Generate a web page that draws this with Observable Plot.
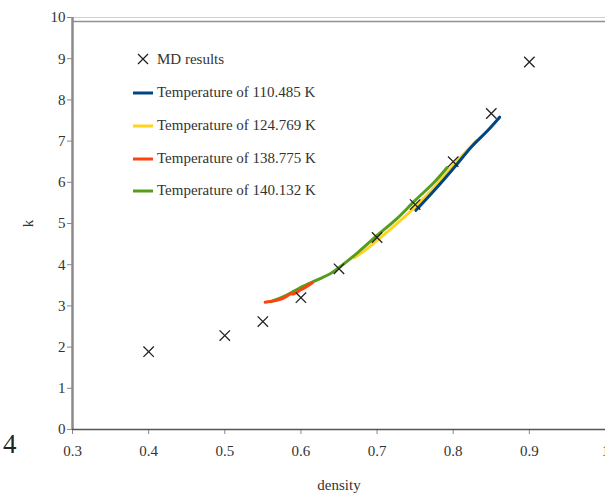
<!DOCTYPE html>
<html>
<head>
<meta charset="utf-8">
<script src="https://cdn.jsdelivr.net/npm/d3@7"></script>
<script src="https://cdn.jsdelivr.net/npm/@observablehq/plot@0.6"></script>
<style>
  html, body { margin: 0; padding: 0; background: white; }
  #wrap { position: relative; width: 605px; height: 495px; font-family: "Liberation Serif", serif; color: #333; }
  #legend { position: absolute; left: 133px; top: 49px; font-size: 15px; font-family: "Liberation Serif", serif; }
  #legend .row { position: absolute; left: 0; white-space: nowrap; height: 20px; }
  #legend svg { position: absolute; left: 0; top: 0; }
  #legend span { position: absolute; left: 24px; top: 0; line-height: 20px; font-size: 15px; }
  #four { position: absolute; left: 3px; top: 429px; font-size: 27px; font-family: "Liberation Serif", serif; color: #222; }
</style>
</head>
<body>
<div id="wrap"><div id="four">4</div></div>
<script>
// MD results
const mdDensity = [0.4, 0.5, 0.55, 0.6, 0.65, 0.7, 0.75, 0.8, 0.85, 0.9];
const mdK       = [1.89, 2.28, 2.62, 3.2, 3.9, 4.66, 5.46, 6.5, 7.67, 8.92];

// Temperature of 110.485 K
const t110Density = [0.751, 0.775, 0.8, 0.825, 0.845, 0.861];
const t110K       = [5.32, 5.8, 6.33, 6.88, 7.25, 7.58];

// Temperature of 124.769 K
const t124Density = [0.670, 0.685, 0.7, 0.725, 0.75, 0.775, 0.8, 0.83];
const t124K       = [4.17, 4.36, 4.59, 4.98, 5.40, 5.88, 6.41, 7.00];

// Temperature of 138.775 K
const t138Density = [0.553, 0.56, 0.567, 0.575, 0.58, 0.586, 0.59, 0.597, 0.605, 0.615];
const t138K       = [3.09, 3.11, 3.13, 3.17, 3.22, 3.29, 3.29, 3.36, 3.44, 3.56];

// Temperature of 140.132 K
const t140Density = [0.56, 0.58, 0.6, 0.625, 0.64, 0.65, 0.675, 0.7, 0.725, 0.75, 0.775, 0.792];
const t140K       = [3.10, 3.25, 3.45, 3.66, 3.80, 3.93, 4.30, 4.71, 5.10, 5.56, 6.00, 6.36];

const xTicks = [0.3, 0.4, 0.5, 0.6, 0.7, 0.8, 0.9, 1];
const yTicks = [0, 1, 2, 3, 4, 5, 6, 7, 8, 9, 10];

const seriesNames = ["Temperature of 110.485 K", "Temperature of 124.769 K", "Temperature of 138.775 K", "Temperature of 140.132 K"];
const seriesColors = ["#004586", "#ffd320", "#ff420e", "#579d1c"];

const toRows = (xs, ys) => xs.map((x, i) => ({x, y: ys[i]}));
const md = toRows(mdDensity, mdK);
const lines = [
  {rows: toRows(t124Density, t124K), color: seriesColors[1]},
  {rows: toRows(t110Density, t110K), color: seriesColors[0]},
  {rows: toRows(t140Density, t140K), color: seriesColors[3]},
  {rows: toRows(t138Density, t138K), color: seriesColors[2]}
];

const chart = Plot.plot({
  width: 605,
  height: 495,
  marginLeft: 72,
  marginRight: 0,
  marginTop: 17,
  marginBottom: 66,
  style: {fontFamily: "'Liberation Serif', serif", fontSize: "15px", color: "#333", background: "white", overflow: "visible"},
  x: {domain: [0.3, 1]},
  y: {domain: [0, 10]},
  marks: [
    Plot.frame({stroke: "#d0d0d0"}),
    Plot.ruleY([10], {stroke: "#909090", strokeWidth: 1.5, dy: 4}),
    Plot.axisX({ticks: xTicks, tickFormat: d3.format("~g"), tickSize: 5, tickPadding: 11, stroke: "#888",
      fontSize: 15, label: "density", labelAnchor: "center", labelArrow: "none", labelOffset: 60}),
    Plot.axisY({ticks: yTicks, tickFormat: d3.format("~g"), tickSize: 5, tickPadding: 2, stroke: "#888",
      fontSize: 15, label: "k", labelAnchor: "center", labelArrow: "none", labelOffset: 50}),
    Plot.ruleX([0.3], {stroke: "#8a8a8a", strokeWidth: 2.5}),
    Plot.ruleY([0], {stroke: "#555", strokeWidth: 1.5}),
    ...lines.map(s => Plot.line(s.rows, {x: "x", y: "y", stroke: s.color, strokeWidth: 3, curve: "catmull-rom"})),
    Plot.dot(md, {x: "x", y: "y", symbol: "times", r: 4.8, stroke: "#222", strokeWidth: 1.3})
  ]
});

const wrap = document.getElementById("wrap");
wrap.insertBefore(chart, wrap.firstChild);

// legend overlay
const legend = document.createElement("div");
legend.id = "legend";
const rowsTop = [0, 33, 66, 99, 131];
let html = `<div class="row" style="top:${rowsTop[0]}px"><svg width="24" height="20"><path d="M5,5L15,15M15,5L5,15" stroke="#222" stroke-width="1.3"/></svg><span>MD results</span></div>`;
seriesNames.forEach((name, i) => {
  html += `<div class="row" style="top:${rowsTop[i + 1]}px"><svg width="24" height="20"><line x1="0" x2="20" y1="11" y2="11" stroke="${seriesColors[i]}" stroke-width="3"/></svg><span>${name}</span></div>`;
});
legend.innerHTML = html;
wrap.appendChild(legend);
</script>
</body>
</html>
